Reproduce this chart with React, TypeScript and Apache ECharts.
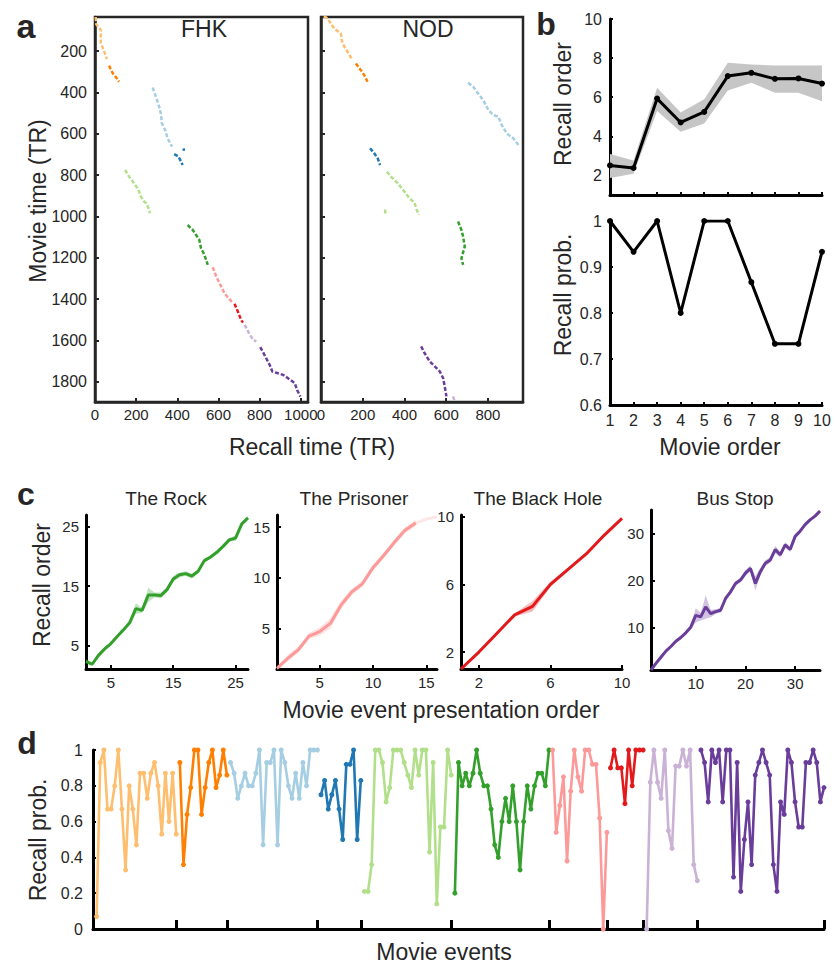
import React, { useEffect, useRef } from 'react';
import * as echarts from 'echarts';

const FONT = "'Liberation Sans', Arial, Helvetica, sans-serif";
const INK = '#262626';

const C_LIGHT_ORANGE = '#fdbf6f';
const C_ORANGE = '#ff7f00';
const C_LIGHT_BLUE = '#a6cee3';
const C_BLUE = '#1f78b4';
const C_LIGHT_GREEN = '#b2df8a';
const C_GREEN = '#33a02c';
const C_PINK = '#fb9a99';
const C_RED = '#e31a1c';
const C_LIGHT_PURPLE = '#cab2d6';
const C_PURPLE = '#6a3d9a';

// ---------- Panel a: [recall time, movie time] ----------
const fhkLightOrange = [[3, 36], [6, 70], [28, 98], [28, 160], [44, 200], [58, 238]];
const fhkOrange = [[68, 270], [85, 305], [101, 325], [117, 348]];
const fhkLightBlue = [[280, 376], [296, 421], [312, 469], [320, 501], [325, 549], [341, 582], [353, 622], [374, 662]];
const fhkBlueStray = [[431, 670], [432, 682]];
const fhkBlue = [[385, 698], [406, 710], [418, 735], [426, 751]];
const fhkLightGreen = [[146, 775], [166, 807], [190, 839], [211, 871], [223, 904], [239, 928], [250, 936], [263, 968], [267, 984]];
const fhkGreen = [[450, 1041], [475, 1065], [507, 1113], [515, 1153], [532, 1186], [548, 1234]];
const fhkPink = [[572, 1245], [589, 1290], [613, 1338], [629, 1371], [650, 1395], [670, 1419]];
const fhkRed = [[678, 1422], [694, 1459], [710, 1500], [719, 1513]];
const fhkLightPurple = [[727, 1524], [748, 1564], [768, 1596], [784, 1604]];
const fhkPurple = [[803, 1632], [824, 1670], [849, 1718], [862, 1750], [889, 1758], [914, 1766], [938, 1782], [971, 1806], [982, 1839], [998, 1871]];

const nodLightOrange = [[14, 31], [31, 42], [63, 90], [95, 115], [103, 163], [127, 203], [151, 243]];
const nodOrange = [[167, 260], [191, 292], [207, 316], [223, 348]];
const nodLightBlue = [[705, 353], [729, 372], [753, 405], [777, 437], [802, 485], [826, 509], [850, 517], [866, 557], [890, 598], [922, 622], [946, 654]];
const nodBlue = [[235, 670], [255, 694], [272, 719], [283, 751]];
const nodLightGreen = [[316, 783], [335, 807], [368, 839], [400, 880], [424, 912], [448, 933], [459, 968], [469, 992]];
const nodLightGreenStray = [[307, 966], [308, 986]];
const nodGreen = [[657, 1024], [673, 1065], [681, 1097], [689, 1145], [673, 1202], [681, 1234]];
const nodLightPurple = [[633, 1870], [641, 1895]];
const nodPurple = [[480, 1628], [496, 1660], [521, 1701], [545, 1725], [569, 1749], [585, 1781], [593, 1822], [601, 1870]];

const movieTimeTicks = [200, 400, 600, 800, 1000, 1200, 1400, 1600, 1800];
const fhkRecallTicks = [0, 200, 400, 600, 800, 1000];
const nodRecallTicks = [0, 200, 400, 600, 800];

// ---------- Panel b ----------
const movieOrder = [1, 2, 3, 4, 5, 6, 7, 8, 9, 10];
const recallOrderMean = [2.51, 2.38, 5.93, 4.71, 5.25, 7.08, 7.25, 6.94, 6.96, 6.7];
const recallOrderUpper = [3.1, 2.76, 6.49, 5.22, 5.89, 7.76, 7.67, 7.62, 7.62, 7.62];
const recallOrderLower = [1.87, 2.09, 5.3, 4.24, 4.66, 6.35, 6.74, 6.23, 6.23, 5.8];
const recallProbByMovie = [1, 0.933, 1, 0.8, 1, 1, 0.867, 0.733, 0.733, 0.933];
const recallOrderTicks = [2, 4, 6, 8, 10];

// ---------- Panel c ----------
const rockOrder = [2.3, 1.8, 3.3, 4.4, 5.3, 6.5, 7.6, 8.8, 11.2, 10.9, 13.5, 13.5, 13.4, 14.4, 16.2, 16.9, 17.1, 16.7, 17.5, 19.3, 19.9, 20.7, 21.7, 22.8, 23.1, 25.5, 26.5];
const rockSem = [0.4, 0.3, 0.3, 0.3, 0.3, 0.3, 0.3, 0.3, 0.9, 0.4, 1.2, 0.4, 0.5, 0.4, 0.5, 0.4, 0.4, 0.4, 0.3, 0.3, 0.3, 0.3, 0.3, 0.3, 0.5, 0.4, 0.3];
const prisonerOrder = [1.07, 2.05, 2.9, 4.25, 4.7, 5.5, 7.3, 8.6, 9.4, 11.0, 12.2, 13.5, 14.7, 15.4];
const prisonerTail = [15.4, 15.8, 16.0];
const prisonerSem = [0.2, 0.3, 0.3, 0.3, 0.4, 0.5, 0.4, 0.3, 0.3, 0.3, 0.3, 0.3, 0.3, 0.3];
const blackHoleOrder = [1.0, 2.0, 3.1, 4.2, 4.7, 6.0, 6.9, 7.8, 8.9, 9.9];
const blackHoleSem = [0.05, 0.1, 0.1, 0.1, 0.3, 0.15, 0.1, 0.1, 0.1, 0.05];
const busStopOrder = [1, 2.4, 3.7, 5, 6, 7.1, 7.9, 8.9, 10.1, 12.6, 12.3, 14.4, 13, 13.4, 13.7, 16.2, 17.6, 19.4, 20.1, 21.6, 22.6, 19.4, 21.9, 23.7, 24.4, 26.6, 25.5, 27.6, 26.6, 29.4, 30.5, 31.9, 32.9, 33.7, 34.8];
const busStopSem = [0.2, 0.3, 0.3, 0.3, 0.3, 0.3, 0.3, 0.4, 0.5, 1.5, 0.8, 2.5, 0.8, 0.5, 0.5, 0.5, 0.5, 0.5, 0.5, 0.6, 0.6, 1.5, 0.8, 0.6, 0.6, 0.8, 0.6, 0.6, 0.5, 0.5, 0.4, 0.4, 0.4, 0.3, 0.3];
const rockTicks = [5, 15, 25];
const prisonerTicks = [5, 10, 15];
const blackHoleTicks = [2, 6, 10];
const busStopTicks = [10, 20, 30];

// ---------- Panel d: recall probability per movie event ----------
const dLightOrange = [0.07, 0.93, 1.0, 0.67, 0.67, 0.8, 1.0, 0.67, 0.33, 0.8, 0.67, 0.47, 0.87, 0.87, 0.73, 0.87, 0.93, 0.8, 0.53, 0.87, 0.6, 0.87, 0.53];
const dOrange = [0.93, 0.36, 0.64, 0.79, 1, 1, 0.64, 0.79, 0.93, 1, 0.79, 0.86, 1, 0.86];
const dLightBlue = [0.93, 0.87, 0.73, 0.8, 0.87, 0.8, 0.8, 0.87, 1, 0.47, 0.93, 0.93, 1, 0.47, 1, 0.93, 0.8, 0.73, 0.87, 0.73, 0.93, 0.8, 1, 1, 1];
const dBlue = [0.75, 0.83, 0.67, 0.75, 0.83, 0.67, 0.5, 0.92, 0.92, 1, 0.5, 0.83];
const dLightGreen = [0.21, 0.21, 0.36, 1, 1, 0.93, 0.71, 0.79, 1, 1, 1, 0.93, 0.86, 0.79, 1, 0.86, 1, 1, 0.43, 0.93, 0.14, 0.57, 0.57, 1, 0.86];
const dGreen = [0.2, 0.93, 0.8, 0.87, 0.8, 0.87, 1, 0.87, 0.8, 0.8, 0.67, 0.47, 0.4, 0.6, 0.73, 0.6, 0.8, 0.6, 0.33, 0.6, 0.8, 0.67, 0.8, 0.87, 0.87, 0.8, 1];
const dPink = [1, 0.54, 0.69, 0.85, 0.38, 0.77, 1, 0.85, 0.77, 1, 1, 0.92, 0.92, 0.62, 0, 0.54];
const dRed = [0.9, 1, 0.9, 0.9, 0.7, 1, 0.8, 1, 1, 1];
const dLightPurple = [0, 0.82, 1, 0.82, 0.73, 1, 0.55, 0.45, 0.91, 0.91, 1, 0.91, 1, 0.36, 0.27];
const dPurple = [1, 0.93, 0.71, 1, 0.93, 1, 0.71, 1, 1, 0.29, 0.93, 0.21, 0.5, 0.71, 0.36, 0.86, 0.93, 1, 0.93, 0.86, 0.36, 0.21, 0.71, 0.64, 1, 0.93, 0.71, 0.57, 0.57, 0.93, 0.93, 1, 0.93, 0.71, 0.79];
const probTicks = [0, 0.2, 0.4, 0.6, 0.8, 1];

function fmtNum(v: number) {
  return String(parseFloat(Number(v).toFixed(2)));
}

function axis(gridIndex: number, min: number, max: number, o: any = {}) {
  const color = o.color ?? '#000';
  const tick: any = { show: true, inside: true, length: o.tickLen ?? 4, lineStyle: { color, width: o.tickWidth ?? 2 } };
  if (o.ticks) tick.customValues = o.ticks;
  const label: any = {
    show: o.showLabels !== false,
    fontSize: o.fontSize ?? 16,
    color: INK,
    fontFamily: FONT,
    margin: o.margin ?? 6,
    formatter: (v: number) => fmtNum(v),
  };
  if (o.ticks) label.customValues = o.ticks;
  if (o.interval != null) label.interval = 0;
  const a: any = {
    type: 'value',
    gridIndex,
    min,
    max,
    inverse: !!o.inverse,
    axisLine: { show: true, onZero: false, lineStyle: { color, width: o.lineWidth ?? 3 } },
    axisTick: tick,
    axisLabel: label,
    splitLine: { show: false },
  };
  if (o.interval != null) a.interval = o.interval;
  return a;
}

function txt(text: string, x: number, y: number, size: number, extra: any = {}) {
  return {
    type: 'text',
    x,
    y,
    rotation: extra.rot ?? 0,
    silent: true,
    style: {
      text,
      font: `${extra.bold ? 'bold ' : ''}${size}px ${FONT}`,
      fill: INK,
      textAlign: extra.align ?? 'center',
      textVerticalAlign: 'middle',
      align: extra.align ?? 'center',
      verticalAlign: 'middle',
    },
  };
}

function trace(idx: number, data: number[][], color: string) {
  return {
    type: 'line',
    xAxisIndex: idx,
    yAxisIndex: idx,
    data,
    symbol: 'none',
    silent: true,
    lineStyle: { color, width: 2.5, type: [4, 2] },
  };
}

function bandPolygon(idx: number, xs: number[], lower: number[], upper: number[], color: string, opacity: number) {
  return {
    type: 'custom',
    xAxisIndex: idx,
    yAxisIndex: idx,
    silent: true,
    z: 1,
    data: [[xs[0], lower[0]]],
    renderItem: (_params: any, api: any) => {
      const pts: number[][] = [];
      xs.forEach((x, i) => pts.push(api.coord([x, upper[i]])));
      for (let i = xs.length - 1; i >= 0; i--) pts.push(api.coord([xs[i], lower[i]]));
      return { type: 'polygon', shape: { points: pts }, style: { fill: color, opacity } };
    },
  };
}

function orderPanel(idx: number, values: number[], sem: number[], color: string) {
  const xs = values.map((_, i) => i + 1);
  return [
    bandPolygon(idx, xs, values.map((v, i) => v - sem[i]), values.map((v, i) => v + sem[i]), color, 0.3),
    {
      type: 'line', xAxisIndex: idx, yAxisIndex: idx, symbol: 'none', silent: true, z: 3,
      data: xs.map((x, i) => [x, values[i]]),
      lineStyle: { color, width: 3 },
    },
  ];
}

export default function App() {
  const ref = useRef<HTMLDivElement>(null);
  useEffect(() => {
    if (!ref.current) return;
    const chart = echarts.init(ref.current, undefined, { renderer: 'svg' });

    const gridBase = { containLabel: false, outerBoundsMode: 'none' };
    const grids = [
      { ...gridBase, left: 95, top: 17, width: 213, height: 385, show: true, borderColor: INK, borderWidth: 2.5 },
      { ...gridBase, left: 321, top: 17, width: 202, height: 385, show: true, borderColor: INK, borderWidth: 2.5 },
      { ...gridBase, left: 610, top: 19, width: 212, height: 176 },
      { ...gridBase, left: 610, top: 221, width: 212, height: 184 },
      { ...gridBase, left: 86, top: 515, width: 162, height: 154 },
      { ...gridBase, left: 277, top: 515, width: 160, height: 154 },
      { ...gridBase, left: 461, top: 515, width: 161, height: 154 },
      { ...gridBase, left: 651, top: 510, width: 169, height: 160 },
      { ...gridBase, left: 93, top: 750, width: 731, height: 179 },
    ];

    const dMovies = [
      { vals: dLightOrange, color: C_LIGHT_ORANGE },
      { vals: dOrange, color: C_ORANGE },
      { vals: dLightBlue, color: C_LIGHT_BLUE },
      { vals: dBlue, color: C_BLUE },
      { vals: dLightGreen, color: C_LIGHT_GREEN },
      { vals: dGreen, color: C_GREEN },
      { vals: dPink, color: C_PINK },
      { vals: dRed, color: C_RED },
      { vals: dLightPurple, color: C_LIGHT_PURPLE },
      { vals: dPurple, color: C_PURPLE },
    ];
    const boundaries: number[] = [];
    const dSeries: any[] = [];
    let offset = 0;
    dMovies.forEach((m) => {
      const start = offset;
      dSeries.push({
        type: 'line', xAxisIndex: 8, yAxisIndex: 8, silent: true,
        data: m.vals.map((v, j) => [start + j + 1, v]),
        symbol: 'circle', symbolSize: 5, showSymbol: true,
        itemStyle: { color: m.color },
        lineStyle: { color: m.color, width: 2.6 },
      });
      offset += m.vals.length;
      boundaries.push(offset);
    });
    const totalEvents = offset;

    const xAxes = [
      axis(0, 0, 1035, { color: INK, lineWidth: 2.5, ticks: fhkRecallTicks, margin: 5, fontSize: 15 }),
      axis(1, 0, 968, { color: INK, lineWidth: 2.5, ticks: nodRecallTicks, margin: 5, fontSize: 15 }),
      axis(2, 1, 10, { interval: 1, showLabels: false, tickLen: 3 }),
      axis(3, 1, 10, { interval: 1, tickLen: 3, fontSize: 16, margin: 7 }),
      axis(4, 1, 27, { ticks: rockTicks, fontSize: 15 }),
      axis(5, 1, 16, { ticks: prisonerTicks, fontSize: 15 }),
      axis(6, 1, 10, { ticks: blackHoleTicks, fontSize: 15 }),
      axis(7, 1, 35, { ticks: busStopTicks, fontSize: 15 }),
      axis(8, 0, totalEvents, { ticks: boundaries, showLabels: false, tickLen: 9, tickWidth: 3 }),
    ];
    const yAxes = [
      axis(0, 35, 1897, { color: INK, lineWidth: 2.5, ticks: movieTimeTicks, inverse: true, margin: 8 }),
      axis(1, 35, 1897, { color: INK, lineWidth: 2.5, ticks: movieTimeTicks, inverse: true, showLabels: false }),
      axis(2, 1, 10, { ticks: recallOrderTicks, margin: 8, tickLen: 3 }),
      axis(3, 0.6, 1, { interval: 0.1, margin: 8, tickLen: 3 }),
      axis(4, 1, 27, { ticks: rockTicks, fontSize: 15, margin: 7 }),
      axis(5, 1, 16.2, { ticks: prisonerTicks, fontSize: 15, margin: 7 }),
      axis(6, 1, 10.1, { ticks: blackHoleTicks, fontSize: 15, margin: 7 }),
      axis(7, 1, 35, { ticks: busStopTicks, fontSize: 15, margin: 7 }),
      axis(8, 0, 1, { ticks: probTicks, margin: 10, tickLen: 3 }),
    ];

    const series: any[] = [
      trace(0, fhkLightOrange, C_LIGHT_ORANGE),
      trace(0, fhkOrange, C_ORANGE),
      trace(0, fhkLightBlue, C_LIGHT_BLUE),
      trace(0, fhkBlueStray, C_BLUE),
      trace(0, fhkBlue, C_BLUE),
      trace(0, fhkLightGreen, C_LIGHT_GREEN),
      trace(0, fhkGreen, C_GREEN),
      trace(0, fhkPink, C_PINK),
      trace(0, fhkRed, C_RED),
      trace(0, fhkLightPurple, C_LIGHT_PURPLE),
      trace(0, fhkPurple, C_PURPLE),
      trace(1, nodLightOrange, C_LIGHT_ORANGE),
      trace(1, nodOrange, C_ORANGE),
      trace(1, nodLightBlue, C_LIGHT_BLUE),
      trace(1, nodBlue, C_BLUE),
      trace(1, nodLightGreen, C_LIGHT_GREEN),
      trace(1, nodLightGreenStray, C_LIGHT_GREEN),
      trace(1, nodGreen, C_GREEN),
      trace(1, nodLightPurple, C_LIGHT_PURPLE),
      trace(1, nodPurple, C_PURPLE),
      bandPolygon(2, movieOrder, recallOrderLower, recallOrderUpper, '#c6c6c6', 1),
      {
        type: 'line', xAxisIndex: 2, yAxisIndex: 2, silent: true, z: 3,
        data: movieOrder.map((m, i) => [m, recallOrderMean[i]]),
        symbol: 'circle', symbolSize: 6, itemStyle: { color: '#000' },
        lineStyle: { color: '#000', width: 3 },
      },
      {
        type: 'line', xAxisIndex: 3, yAxisIndex: 3, silent: true,
        data: movieOrder.map((m, i) => [m, recallProbByMovie[i]]),
        symbol: 'circle', symbolSize: 6, itemStyle: { color: '#000' },
        lineStyle: { color: '#000', width: 3 },
      },
      ...orderPanel(4, rockOrder, rockSem, C_GREEN),
      ...orderPanel(5, prisonerOrder, prisonerSem, C_PINK),
      {
        type: 'line', xAxisIndex: 5, yAxisIndex: 5, symbol: 'none', silent: true,
        data: prisonerTail.map((v, i) => [prisonerOrder.length + i, v]),
        lineStyle: { color: C_PINK, width: 3, opacity: 0.25 },
      },
      ...orderPanel(6, blackHoleOrder, blackHoleSem, C_RED),
      ...orderPanel(7, busStopOrder, busStopSem, C_PURPLE),
      ...dSeries,
    ];

    const graphic = [
      txt('a', 26, 26, 34, { bold: true }),
      txt('b', 546, 24, 32, { bold: true }),
      txt('c', 26, 494, 32, { bold: true }),
      txt('d', 27, 743, 32, { bold: true }),
      txt('FHK', 204, 29, 23),
      txt('NOD', 428, 29, 23),
      txt('Movie time (TR)', 38, 201, 23, { rot: Math.PI / 2 }),
      txt('Recall time (TR)', 312, 447, 23),
      txt('Recall order', 563, 104, 23, { rot: Math.PI / 2 }),
      txt('Recall prob.', 563, 295, 23, { rot: Math.PI / 2 }),
      txt('Movie order', 720, 447, 23),
      txt('The Rock', 166, 498, 19),
      txt('The Prisoner', 354, 498, 19),
      txt('The Black Hole', 538, 498, 19),
      txt('Bus Stop', 735, 498, 19),
      txt('Recall order', 42, 585, 23, { rot: Math.PI / 2 }),
      txt('Movie event presentation order', 441, 710, 23),
      txt('Recall prob.', 38, 840, 23, { rot: Math.PI / 2 }),
      txt('Movie events', 444, 952, 23),
    ];

    chart.setOption({
      animation: false,
      backgroundColor: '#ffffff',
      textStyle: { fontFamily: FONT },
      grid: grids,
      xAxis: xAxes,
      yAxis: yAxes,
      series,
      graphic,
    });
    return () => chart.dispose();
  }, []);

  return (
    <div
      ref={ref}
      style={{ position: 'absolute', left: 0, top: 0, width: 835, height: 964, background: '#fff' }}
    />
  );
}
